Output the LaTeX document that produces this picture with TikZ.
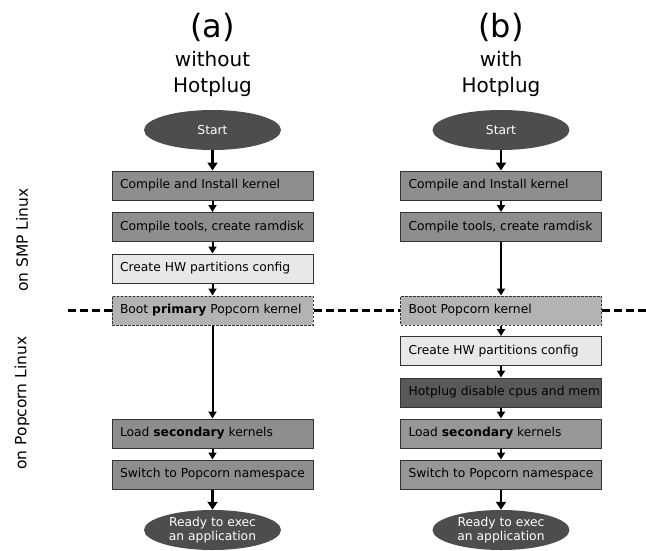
\documentclass[tikz,border=0pt]{standalone}
\usepackage{fontspec}
\setmainfont{DejaVu Sans}
\usetikzlibrary{shapes.geometric,arrows.meta}
\definecolor{ellfill}{HTML}{4D4D4D}
\definecolor{darkbox}{HTML}{8E8E8E}
\definecolor{darkboxb}{HTML}{979797}
\definecolor{lightbox}{HTML}{E8E8E8}
\definecolor{bootbox}{HTML}{B3B3B3}
\definecolor{hotbox}{HTML}{595959}
\tikzset{
  stepbox/.style={rectangle, draw=black!80, line width=1pt, minimum width=201pt, minimum height=29pt, inner xsep=8pt, inner ysep=0pt, font=\fontsize{12.3}{14}\selectfont},
  bootstyle/.style={stepbox, dash pattern=on 2.5pt off 1.5pt, fill=bootbox},
  terminal/.style={ellipse, fill=ellfill, minimum width=137pt, minimum height=40pt, inner sep=0pt, text=white, align=center, font=\fontsize{12.3}{14}\selectfont},
  flow/.style={-{Triangle[width=8pt,length=7pt]}, line width=2pt},
  flowthick/.style={-{Triangle[width=10pt,length=8pt]}, line width=2.8pt},
  sepline/.style={line width=2.3pt, dash pattern=on 8pt off 4pt},
  titlebig/.style={anchor=base, inner sep=0pt, font=\fontsize{32}{36}\selectfont},
  titlesmall/.style={anchor=base, inner sep=0pt, font=\fontsize{20}{24}\selectfont},
  sidelabel/.style={rotate=90, inner sep=0pt, font=\fontsize{15.5}{18}\selectfont}
}
\newcommand{\bx}[1]{\makebox[185pt][l]{#1}}
\begin{document}
\begin{tikzpicture}[x=1pt,y=-1pt]
\useasboundingbox (0,0) rectangle (646,550);
% titles
\node[titlebig] (ta) at (212.5,37.5) {(a)};
\node[titlesmall] (ta1) at (212.5,66) {without};
\node[titlesmall] (ta2) at (212.5,92) {Hotplug};
\node[titlebig] (tb) at (501,37.5) {(b)};
\node[titlesmall] (tb1) at (501,66) {with};
\node[titlesmall] (tb2) at (501,92) {Hotplug};
% side labels
\node[sidelabel] (smp) at (22,240) {on SMP Linux};
\node[sidelabel] (pop) at (22,403) {on Popcorn Linux};
% column (a)
\node[terminal] (sa) at (212.5,130) {Start};
\node[stepbox, fill=darkbox] (a1) at (212.5,185.5) {\bx{Compile and Install kernel}};
\node[stepbox, fill=darkbox] (a2) at (212.5,227) {\bx{Compile tools, create ramdisk}};
\node[stepbox, fill=lightbox] (a3) at (212.5,268.5) {\bx{Create HW partitions config}};
\node[bootstyle] (a4) at (212.5,310.5) {\bx{Boot \textbf{primary} Popcorn kernel}};
\node[stepbox, fill=darkbox] (a5) at (212.5,433.5) {\bx{Load \textbf{secondary} kernels}};
\node[stepbox, fill=darkbox] (a6) at (212.5,474.5) {\bx{Switch to Popcorn namespace}};
\node[terminal] (ra) at (212.5,530) {Ready to exec\\an application};
% column (b)
\node[terminal] (sb) at (501,130) {Start};
\node[stepbox, fill=darkbox] (b1) at (501,185.5) {\bx{Compile and Install kernel}};
\node[stepbox, fill=darkbox] (b2) at (501,227) {\bx{Compile tools, create ramdisk}};
\node[bootstyle] (b3) at (501,310.5) {\bx{Boot Popcorn kernel}};
\node[stepbox, fill=lightbox] (b4) at (501,351) {\bx{Create HW partitions config}};
\node[stepbox, fill=hotbox] (b5) at (501,392.5) {\bx{Hotplug disable cpus and mem}};
\node[stepbox, fill=darkboxb] (b6) at (501,433.5) {\bx{Load \textbf{secondary} kernels}};
\node[stepbox, fill=darkboxb] (b7) at (501,474.5) {\bx{Switch to Popcorn namespace}};
\node[terminal] (rb) at (501,530) {Ready to exec\\an application};
% separator
\coordinate (dl) at (68,310.5);
\coordinate (dr) at (646,310.5);
\draw[sepline] (dl) -- (a4.west);
\draw[sepline] (a4.east) -- (b3.west);
\draw[sepline] (b3.east) -- (dr);
% arrows (a)
\draw[flowthick] (sa) -- (a1);
\draw[flow] (a1) -- (a2);
\draw[flow] (a2) -- (a3);
\draw[flow] (a3) -- (a4);
\draw[flow] (a4) -- (a5);
\draw[flow] (a5) -- (a6);
\draw[flowthick] (a6) -- (ra);
% arrows (b)
\draw[flowthick] (sb) -- (b1);
\draw[flow] (b1) -- (b2);
\draw[flow] (b2) -- (b3);
\draw[flow] (b3) -- (b4);
\draw[flow] (b4) -- (b5);
\draw[flow] (b5) -- (b6);
\draw[flow] (b6) -- (b7);
\draw[flowthick] (b7) -- (rb);
\end{tikzpicture}
\end{document}
